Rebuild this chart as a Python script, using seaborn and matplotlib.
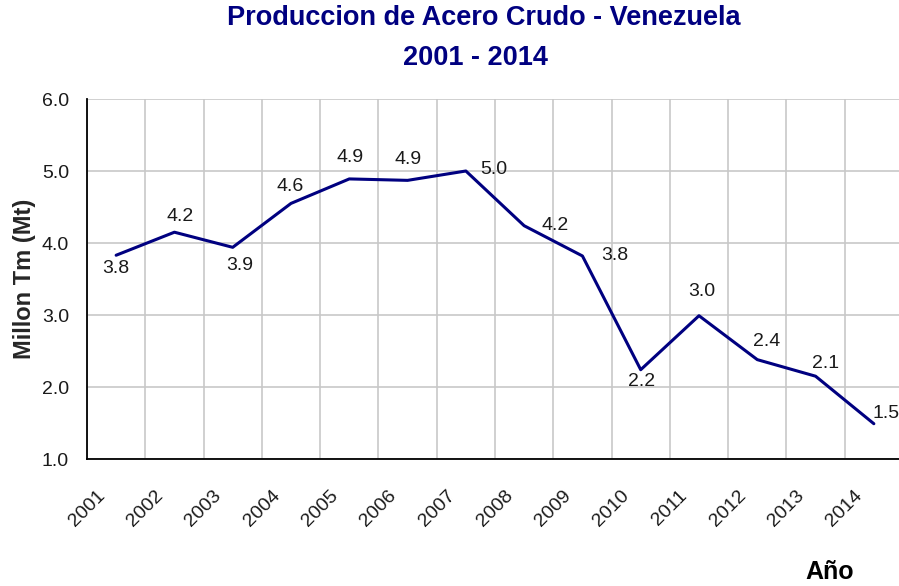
import matplotlib
matplotlib.use("Agg")
import matplotlib.pyplot as plt
import seaborn as sns
import pandas as pd

# ---------------------------
# Data
# ---------------------------
years = ["2001", "2002", "2003", "2004", "2005", "2006", "2007",
         "2008", "2009", "2010", "2011", "2012", "2013", "2014"]
production = [3.83, 4.15, 3.94, 4.55, 4.89, 4.87, 5.00,
              4.24, 3.82, 2.24, 2.99, 2.38, 2.15, 1.49]
labels = ["3.8", "4.2", "3.9", "4.6", "4.9", "4.9", "5.0",
          "4.2", "3.8", "2.2", "3.0", "2.4", "2.1", "1.5"]
# label offsets (pixels) relative to each point, as Excel placed them
label_dx = [0, 6, 7, -1, 1, 0, 28, 31, 32, 1, 3, 9, 10, 12]
label_dy = [-13, 16, -18, 17, 21, 21, 1, 0, 0, -12, 24, 18, 13, 10]

df = pd.DataFrame({"pos": [i + 0.5 for i in range(len(years))],
                   "value": production})

# ---------------------------
# Style
# ---------------------------
sns.set_style("white")
plt.rcParams["font.family"] = ["Liberation Sans", "DejaVu Sans"]

fig = plt.figure(figsize=(8.99, 5.86), dpi=100)
ax = fig.add_axes([87 / 899, 127 / 586, 816 / 899, 360 / 586])

sns.lineplot(data=df, x="pos", y="value", color="#000080", linewidth=2.2, ax=ax)

for i, txt in enumerate(labels):
    ax.annotate(txt, (df["pos"][i], df["value"][i]),
                xytext=(label_dx[i], label_dy[i]), textcoords="offset pixels",
                ha="center", va="center", fontsize=14, color="#1a1a1a")

ax.set_xlim(0, 14)
ax.set_ylim(1.0, 6.0)
ax.set_xticks(range(len(years)))
ax.set_xticklabels(years, rotation=45, ha="center", fontsize=14, color="#1a1a1a")
ax.set_yticks([1, 2, 3, 4, 5, 6])
ax.set_yticklabels([f"{v:.1f}" for v in [1, 2, 3, 4, 5, 6]], fontsize=14, color="#1a1a1a")
ax.tick_params(axis="both", direction="out", length=6, width=1.2, color="black")
ax.tick_params(axis="x", pad=14)
ax.tick_params(axis="y", pad=7)

ax.grid(True, color="#c8c8c8", linewidth=1.2)
ax.set_axisbelow(True)
for side in ["top", "right"]:
    ax.spines[side].set_visible(False)
for side in ["left", "bottom"]:
    ax.spines[side].set_color("black")
    ax.spines[side].set_linewidth(1.3)

ax.set_xlabel("")
ax.set_ylabel("Millon Tm (Mt)", fontsize=17, fontweight="bold")
ax.yaxis.set_label_coords(-0.062, 0.5)

fig.text(484 / 899, 1 - 18 / 586, "Produccion de Acero Crudo - Venezuela",
         ha="center", va="center", fontsize=19.5, fontweight="bold", color="#000080")
fig.text(475 / 899, 1 - 58 / 586, "2001 - 2014",
         ha="center", va="center", fontsize=19.5, fontweight="bold", color="#000080")
fig.text(830 / 899, 1 - 572 / 586, "Año",
         ha="center", va="center", fontsize=18, fontweight="bold", color="black")

fig.savefig("out.png", dpi=100)
